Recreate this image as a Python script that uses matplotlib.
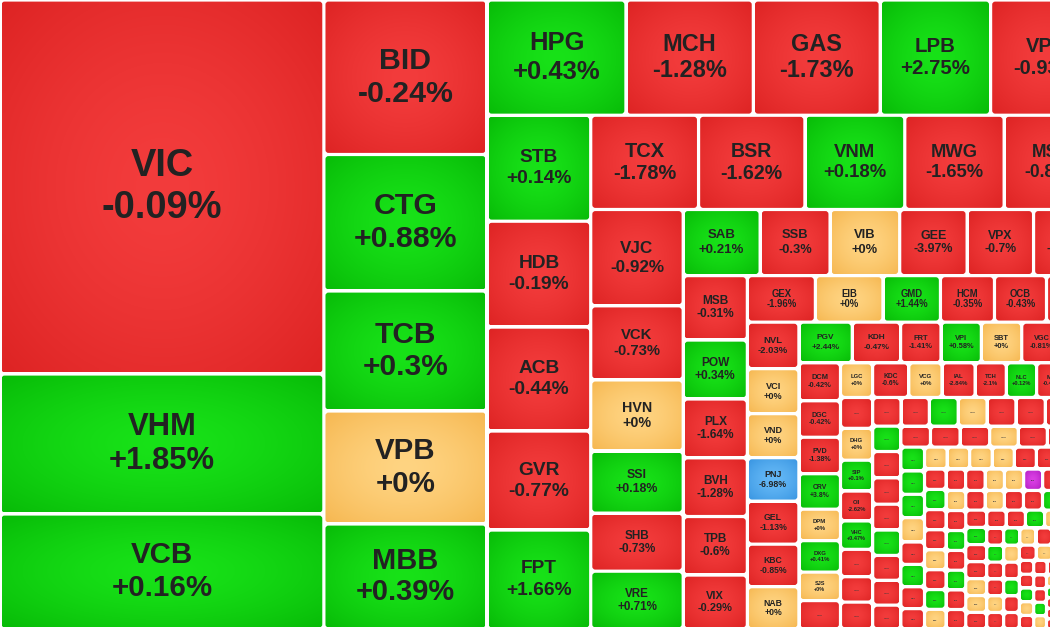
import numpy as np
import matplotlib
matplotlib.use("Agg")
import matplotlib.pyplot as plt
from matplotlib.patches import FancyBboxPatch

# ---------------- data ----------------
tickers = ["VIC", "VHM", "VCB",
           "BID", "CTG", "TCB", "VPB", "MBB",
           "HPG", "MCH", "GAS", "LPB", "VPL",
           "STB", "HDB", "ACB", "GVR", "FPT",
           "TCX", "BSR", "VNM", "MWG", "MSN",
           "VJC", "VCK", "HVN", "SSI", "SHB", "VRE",
           "SAB", "SSB", "VIB", "GEE", "VPX", "VSC",
           "MSB", "POW", "PLX", "BVH", "TPB", "VIX",
           "GEX", "EIB", "GMD", "HCM", "OCB", "HSG",
           "NVL", "VCI", "VND", "PNJ", "GEL", "KBC", "NAB",
           "PGV", "KDH", "FRT", "VPI", "SBT", "VGC", "DIG",
           "DCM", "DGC", "PVD", "CRV", "DPM", "DXG", "SJS", "",
           "LGC", "KDC", "VCG", "IAL", "TCH", "NLC", "MIG", "",
           "", "DHG", "SIP", "CII", "VHC", "", "", "",
           "", "", "", "", "", "", "", "",
           "", "", "", "", "", "", "", "",
           "", "", "", "", "", "", "",
           "", "", "", "", "", "", "", "",
           "", "", "", "", "", "", "", ""]

changes = [-0.09, 1.85, 0.16,
           -0.24, 0.88, 0.30, 0.00, 0.39,
           0.43, -1.28, -1.73, 2.75, -0.93,
           0.14, -0.19, -0.44, -0.77, 1.66,
           -1.78, -1.62, 0.18, -1.65, -0.86,
           -0.92, -0.73, 0.00, 0.18, -0.73, 0.71,
           0.21, -0.30, 0.00, -3.97, -0.70, -1.05,
           -0.31, 0.34, -1.64, -1.28, -0.60, -0.29,
           -1.96, 0.00, 1.44, -0.35, -0.43, -0.52,
           -2.03, 0.00, 0.00, -6.98, -1.13, -0.85, 0.00,
           2.44, -0.47, -1.41, 0.58, 0.00, -0.81, -1.10,
           -0.42, -0.42, -1.38, 3.80, 0.00, 0.41, 0.00, -0.50,
           0.00, -0.60, 0.00, -2.84, -2.10, 0.12, -0.48, -0.30,
           -0.60, 0.00, 0.10, -2.62, 0.47, -0.40, -0.70, -0.20,
           -0.50, -0.30, 0.40, 0.00, -0.60, -0.80, -0.40, -0.20,
           0.50, -0.50, -1.00, -0.40, 0.60, -0.30, -0.90, -0.20,
           -0.40, -0.60, -0.20, 0.00, -0.50, -0.70, -0.30,
           0.80, 0.50, 0.20, 0.00, -0.30, 0.40, -0.60, -0.50,
           0.00, 0.00, 0.00, 0.00, -0.40, -0.50, 0.20, -0.30]

caps = [120989, 45290, 37203,
        25184, 22250, 19560, 18419, 17115,
        15985, 14663, 14605, 12708, 12478,
        10971, 10960, 10764, 10250, 10243,
        10152, 10011, 9400, 9353, 8930,
        8900, 6845, 6568, 5735, 5365, 5340,
        5082, 4620, 4600, 4455, 4389, 4323,
        4128, 3776, 3770, 3760, 3750, 3456,
        3162, 3139, 2674, 2511, 2418, 2440,
        2395, 2318, 2266, 2240, 2215, 2189, 2180,
        2167, 1964, 1640, 1640, 1640, 1620, 1519,
        1577, 1515, 1515, 1473, 1307, 1307, 1183, 1180,
        1111, 1252, 1149, 1145, 1080, 1049, 1045, 1114,
        992, 1024, 992, 960, 912, 880, 816, 864,
        812, 812, 827, 827, 827, 841, 770, 770,
        714, 742, 742, 728, 714, 700, 700, 672,
        620, 620, 620, 599, 609, 546, 536,
        564, 552, 552, 576, 529, 529, 517, 482,
        495, 495, 495, 484, 484, 462, 462, 451]

# smallest stocks (unlabelled cells)
tail_caps = [436, 434, 432, 430, 428, 426, 424, 422,
             418, 416, 412, 410, 406, 404, 400, 398,
             396, 394, 392, 390, 388, 386, 384,
             380, 378, 376, 374, 372, 370, 368,
             362, 360, 358, 356, 354, 352,
             348, 346, 344, 342, 340, 338,
             292, 290, 288, 286, 284, 282,
             280, 278, 276, 274, 272, 270,
             268, 266, 264, 262, 260,
             258, 256, 254, 252, 250,
             200, 199, 198, 197, 196,
             195, 194, 193, 192, 191,
             178, 176, 174, 172,
             170, 168, 166, 164,
             140, 138, 136, 134,
             132, 130, 128, 126,
             100, 98, 96,
             94, 92, 90, 88,
             84, 82, 80, 78, 76, 74, 72, 70]
# r = down, g = up, y = unchanged, p = ceiling
tail_states = ("rgrryrgyrr" "yyprrryrgr" "grrryrrgyr" "rgrryyrrrg" "yrrrgrryrg"
               "yrrrpyrgrr" "ryygrrrgyr" "rryrgrrgyy" "rrrgrrryyg" "rrgrryrrgy"
               "rrgyr")

# ---------------- layout parameters ----------------
strip_counts = [3, 5, 5, 5, 5, 6, 6, 6, 6, 7, 7, 8, 8, 8, 8, 8, 7, 8, 8]
RATIO = 1.08
X0, Y0, X1, Y1 = 0.0, 0.0, 1099.0, 629.0
GAP = 1.6

PALETTE = {
    "r": ((243, 60, 60), (222, 36, 36)),
    "g": ((24, 226, 24), (8, 188, 8)),
    "y": ((255, 212, 130), (246, 184, 82)),
    "b": ((100, 184, 246), (58, 150, 226)),
    "p": ((218, 64, 228), (178, 28, 194)),
}


def state_of(ch):
    if ch >= 6.9:
        return "p"
    if ch <= -6.9:
        return "b"
    if ch > 0:
        return "g"
    if ch < 0:
        return "r"
    return "y"


def squarify(values, x0, y0, x1, y1, counts, ratio):
    rects = []
    n = len(values)
    value = float(sum(values))
    i0 = 0
    k = 0
    while i0 < n:
        dx, dy = x1 - x0, y1 - y0
        if k < len(counts):
            i1 = min(n, i0 + counts[k])
            s = float(sum(values[i0:i1]))
        else:
            i1 = i0 + 1
            s = float(values[i0])
            mn = mx = s
            alpha = max(dy / dx, dx / dy) / (value * ratio)
            beta = s * s * alpha
            best = max(mx / beta, beta / mn)
            while i1 < n:
                v = values[i1]
                s2 = s + v
                mn2, mx2 = min(mn, v), max(mx, v)
                beta = s2 * s2 * alpha
                rr = max(mx2 / beta, beta / mn2)
                if rr > best:
                    break
                best, s, mn, mx = rr, s2, mn2, mx2
                i1 += 1
        if dx < dy:
            yy = y1 if i1 >= n else y0 + dy * s / value
            xx = x0
            for i in range(i0, i1):
                w = dx * values[i] / s
                rects.append((xx, y0, w, yy - y0))
                xx += w
            y0 = yy
        else:
            xx = x1 if i1 >= n else x0 + dx * s / value
            yy = y0
            for i in range(i0, i1):
                h = dy * values[i] / s
                rects.append((x0, yy, xx - x0, h))
                yy += h
            x0 = xx
        value -= s
        i0 = i1
        k += 1
    return rects


def gradient(state, n=48):
    c0 = np.array(PALETTE[state][0]) / 255.0
    c1 = np.array(PALETTE[state][1]) / 255.0
    u = np.linspace(-1, 1, n)
    X, Y = np.meshgrid(u, u)
    d = np.clip(np.sqrt(X ** 2 + Y ** 2) / np.sqrt(2), 0, 1) ** 1.5
    return c0[None, None, :] * (1 - d[..., None]) + c1[None, None, :] * d[..., None]


GRADS = {s: gradient(s) for s in PALETTE}

def fmt(ch):
    s = f"{ch:+.2f}".rstrip("0").rstrip(".")
    return s + "%"

# ---------------- drawing ----------------
all_vals = list(caps) + list(tail_caps)
all_states = [state_of(c) for c in changes] + list(tail_states)
all_names = list(tickers) + [None] * len(tail_caps)
all_changes = list(changes) + [None] * len(tail_caps)

rects = squarify(all_vals, X0, Y0, X1, Y1, strip_counts, RATIO)

plt.rcParams["font.family"] = ["Liberation Sans", "DejaVu Sans"]
fig = plt.figure(figsize=(10.5, 6.3), dpi=100)
fig.patch.set_facecolor("white")
ax = fig.add_axes([0, 0, 1, 1])
ax.set_xlim(0, 1050)
ax.set_ylim(630, 0)
ax.axis("off")

hp = [20, 34, 40.5, 46.5, 54, 62, 74, 94, 105, 140, 154, 374]
ep = [4, 6.5, 8.2, 9.5, 11, 12.4, 14.8, 20, 29, 31, 33, 38]
PX2PT = 72.0 / fig.dpi

for (x, y, w, h), st, name, ch in zip(rects, all_states, all_names, all_changes):
    if x > 1052 or y > 632:
        continue
    cx0, cy0 = x + GAP, y + GAP
    cw, chh = w - 2 * GAP, h - 2 * GAP
    if cw <= 0.6 or chh <= 0.6:
        continue
    rad = min(3.0, 0.25 * min(cw, chh))
    patch = FancyBboxPatch((cx0, cy0), cw, chh,
                           boxstyle=f"round,pad=0,rounding_size={rad}",
                           fc="none", ec="none", transform=ax.transData)
    ax.add_patch(patch)
    im = ax.imshow(GRADS[st], extent=(cx0, cx0 + cw, cy0 + chh, cy0),
                   interpolation="bilinear", aspect="auto", zorder=1)
    im.set_clip_path(patch)

    xc, yc = x + w / 2, y + h / 2
    if name:
        em = min(0.185 * w, float(np.interp(h, hp, ep)))
        if em < 3.2:
            continue
        fs = em * PX2PT
        ax.text(xc, yc - 0.55 * em, name, ha="center", va="center",
                fontsize=fs, fontweight="bold", color="#222222", zorder=3)
        ax.text(xc, yc + 0.55 * em, fmt(ch), ha="center", va="center",
                fontsize=fs, fontweight="bold", color="#222222", zorder=3)
    elif w >= 16 and h >= 14:
        fs = min(5.5, 0.2 * w) * 0.9
        ax.text(xc, yc, "...", ha="center", va="center",
                fontsize=fs, fontweight="bold", color="#3a3a3a", zorder=3)

fig.savefig("out.png", dpi=100, facecolor="white")
